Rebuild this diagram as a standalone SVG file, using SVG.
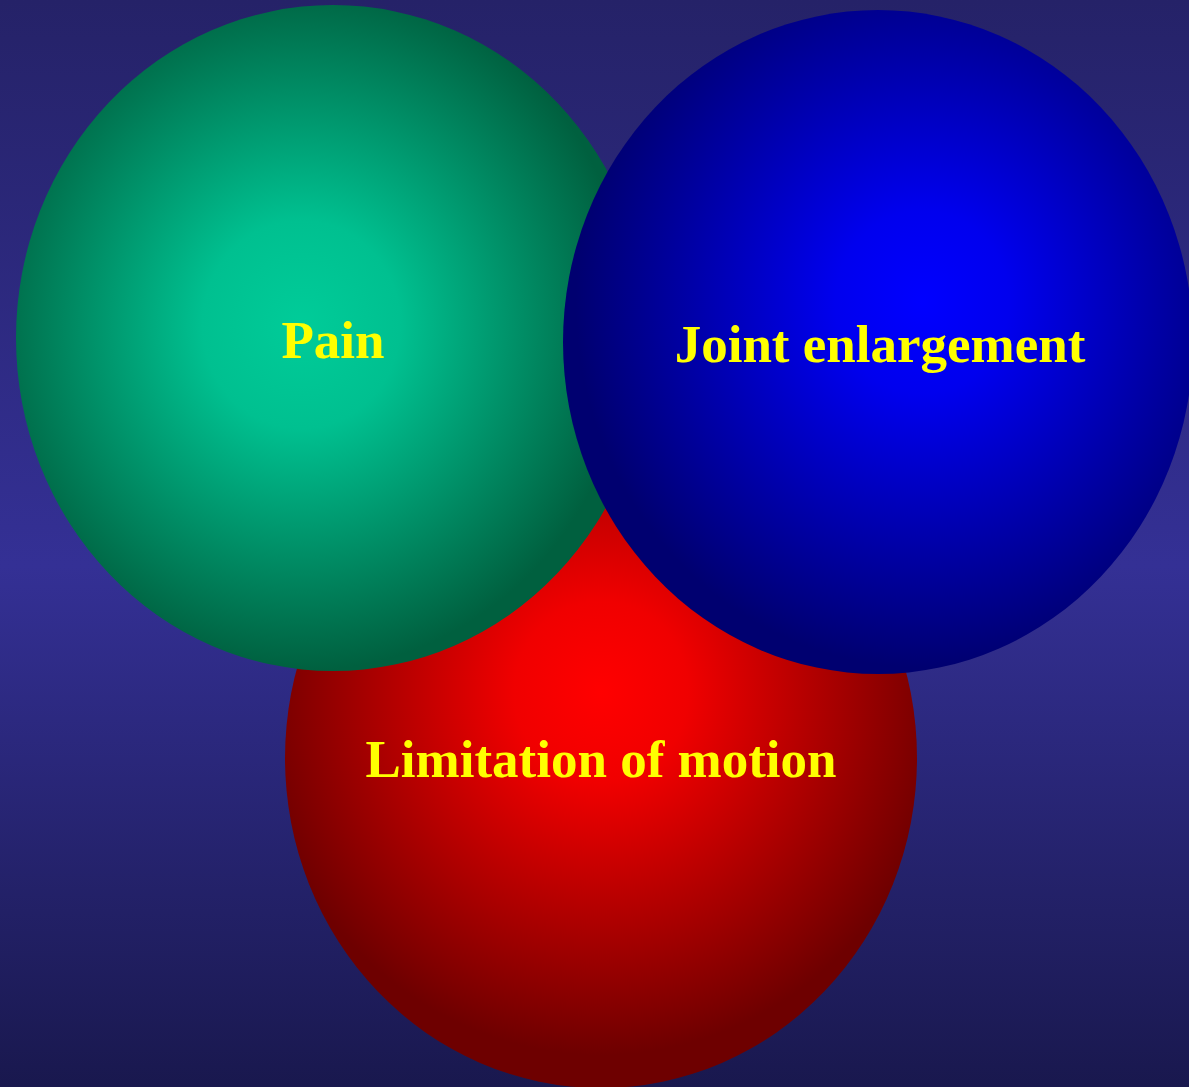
<svg xmlns="http://www.w3.org/2000/svg" width="1189" height="1087" viewBox="0 0 1189 1087">
<defs>
<linearGradient id="bg" x1="0" y1="0" x2="0" y2="1">
<stop offset="0" stop-color="#252268"/>
<stop offset="0.52" stop-color="#343095"/>
<stop offset="1" stop-color="#19184e"/>
</linearGradient>
<radialGradient id="gGreen" cx="0.45" cy="0.48" r="0.52">
<stop offset="0" stop-color="#00cc99"/>
<stop offset="0.3" stop-color="#00c090"/>
<stop offset="1" stop-color="#00603f"/>
</radialGradient>
<radialGradient id="gBlue" cx="0.57" cy="0.44" r="0.55">
<stop offset="0" stop-color="#0000ff"/>
<stop offset="0.25" stop-color="#0000ee"/>
<stop offset="1" stop-color="#000070"/>
</radialGradient>
<radialGradient id="gRed" cx="0.5" cy="0.4" r="0.55">
<stop offset="0" stop-color="#ff0000"/>
<stop offset="0.25" stop-color="#f00000"/>
<stop offset="1" stop-color="#6e0000"/>
</radialGradient>
</defs>
<style>
.lbl{font-family:"Liberation Serif","Times New Roman",serif;font-weight:bold;font-size:53px;fill:#ffff00;text-anchor:middle}
</style>
<rect x="0" y="0" width="1189" height="1087" fill="url(#bg)"/>
<g id="connectors"/>
<g id="node-limitation">
<ellipse cx="601" cy="758" rx="316" ry="330" fill="url(#gRed)"/>
<text class="lbl" x="601" y="777">Limitation of motion</text>
</g>
<g id="node-pain">
<ellipse cx="333" cy="338" rx="317" ry="333" fill="url(#gGreen)"/>
<text class="lbl" x="333" y="358">Pain</text>
</g>
<g id="node-joint">
<ellipse cx="878" cy="342" rx="315" ry="332" fill="url(#gBlue)"/>
<text class="lbl" x="880" y="362">Joint enlargement</text>
</g>
</svg>
